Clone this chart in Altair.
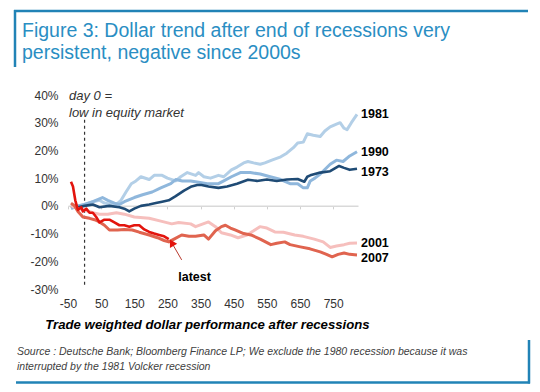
import altair as alt
import pandas as pd

# ---------------- data ----------------
s1981_days = [-41, -20, 0, 25, 45, 60, 80, 96, 110, 125, 141, 155, 170, 195, 210, 234, 250, 275, 290, 310, 335, 344, 360, 380, 404, 420, 443, 460, 480, 493, 510, 530, 544, 565, 592, 610, 630, 643, 660, 672, 690, 711, 725, 741, 760, 771, 783, 792, 805, 822]
s1981_vals = [0.5, 0, 0.5, 1.5, 2, 1, 0.5, 0.5, 2, 5, 8, 9, 10.5, 9.5, 11, 11, 10, 9, 10.5, 12, 11, 12, 10.5, 10, 11, 10.5, 13, 14, 15.5, 16, 15.5, 15, 15.5, 16.5, 17.7, 19, 21, 22.7, 23, 26, 25.5, 25, 27, 28.5, 29.5, 30, 28, 27.5, 30, 33]

s1990_days = [-41, -20, 0, 25, 54, 70, 90, 105, 120, 150, 175, 204, 230, 260, 275, 295, 320, 344, 370, 404, 420, 443, 470, 500, 530, 560, 592, 620, 643, 660, 672, 681, 695, 711, 741, 760, 780, 800, 822]
s1990_vals = [-1, 0, 0.5, 1.5, 3, 2, 1, 0.5, 1.5, 3, 4, 5, 6.5, 8, 9.5, 9, 9, 8.5, 8, 8, 9, 10.5, 12, 12, 11.5, 10.5, 9.5, 8, 8, 6.5, 6.5, 9, 10, 11.5, 15, 16.5, 16, 18, 19.5]

s1973_days = [-41, -20, 0, 25, 45, 75, 105, 120, 135, 150, 170, 195, 215, 234, 254, 275, 300, 323, 340, 353, 374, 404, 430, 460, 493, 520, 550, 580, 610, 643, 663, 672, 681, 711, 741, 768, 783, 800, 822]
s1973_vals = [0, -0.5, 0, 0.5, -0.5, 0, -0.5, -1, -2, -1, 0, 0.5, 1, 1.5, 2, 3.5, 5.5, 7, 7.5, 7.5, 7, 6.5, 7, 8, 9.4, 9, 9.5, 9, 9.5, 9.7, 8.7, 10.5, 11, 12, 12.5, 14.4, 13.7, 13, 13.4]

s2001_days = [-41, -20, 0, 25, 45, 70, 96, 120, 150, 195, 230, 263, 284, 320, 335, 374, 395, 413, 440, 463, 490, 510, 529, 550, 574, 600, 634, 660, 693, 720, 741, 760, 783, 800, 822]
s2001_vals = [0, -1, -1.5, -2.5, -3, -3, -2.5, -3, -4, -4.5, -5.5, -6.5, -6, -6.5, -7.5, -5.8, -7.5, -9.7, -10.5, -11.5, -10.5, -9, -7.5, -8, -9.4, -9.5, -10.5, -11, -12, -13, -15, -14.5, -14, -13.5, -13.4]

s2007_days = [-41, -30, -20, -5, 15, 30, 45, 60, 75, 100, 120, 144, 165, 195, 220, 240, 254, 270, 293, 315, 335, 360, 374, 395, 413, 425, 440, 454, 480, 502, 530, 562, 580, 604, 620, 651, 680, 711, 730, 747, 765, 783, 800, 822]
s2007_vals = [1, 0, -2, -4, -4.5, -5, -5.8, -7, -8.7, -8.7, -8.5, -8.7, -9.5, -10.5, -11.5, -12.5, -13, -12, -10.5, -11, -11, -10.5, -12, -9, -7.5, -7, -8, -8.7, -10, -10.5, -12, -14, -13.5, -13, -14, -14.8, -15.5, -16.6, -17.5, -18.4, -17.5, -17, -17.5, -17.7]

latest_days = [-41, -35, -28, -20, -10, -5, 5, 15, 25, 35, 45, 60, 75, 90, 105, 120, 135, 150, 165, 180, 195, 210, 225, 240, 254]
latest_vals = [8.7, 7, 2, -1.5, -0.5, -2, -1, -2.5, -2.5, -4, -6, -5, -5, -6, -7, -7, -7.5, -7, -7, -8.5, -9.4, -10, -10.5, -11, -12]

series_names = ["1981", "1990", "1973", "2001", "2007", "latest"]
series_colors = ["#b3cfe7", "#8fb7dc", "#1f4b75", "#f6bfbd", "#e0644f", "#e3140d"]

x_ticks = [-50, 50, 150, 250, 350, 450, 550, 650, 750]
y_ticks = [-30, -20, -10, 0, 10, 20, 30, 40]

day0_rule = {"day": [0], "lo": [-28.5], "hi": [31.5]}
arrow_days = [293, 263]
arrow_vals = [-19.5, -13.3]
latest_label = {"day": [332], "value": [-25.6], "label": ["latest"]}
note_day = [-47]
note_vals = [39.7, 33.6]

title_lines = ["Figure 3: Dollar trend after end of recessions very",
               "persistent, negative since 2000s"]
x_title = "Trade weighted dollar performance after recessions"
source_lines = ["Source : Deutsche Bank; Bloomberg Finance LP; We exclude the 1980 recession because it was",
                "interrupted by the 1981 Volcker recession"]

# ---------------- tables ----------------
all_days = [s1981_days, s1990_days, s1973_days, s2001_days, s2007_days, latest_days]
all_vals = [s1981_vals, s1990_vals, s1973_vals, s2001_vals, s2007_vals, latest_vals]
rows = []
for name, ds, vs in zip(series_names, all_days, all_vals):
    for d, v in zip(ds, vs):
        rows.append({"series": name, "day": d, "value": v})
df = pd.DataFrame(rows)

ends = pd.DataFrame([{"series": n, "day": ds[-1], "value": vs[-1]}
                     for n, ds, vs in zip(series_names[:5], all_days[:5], all_vals[:5])])

FONT = "Liberation Sans"

x_enc = alt.X("day:Q",
              scale=alt.Scale(domain=[-50, 825], nice=False, zero=False),
              axis=alt.Axis(values=x_ticks, labelExpr="'' + datum.value", offset=-83.14,
                            domainColor="#d9d9d9", domainWidth=1.5, tickColor="#d0d0d0",
                            tickSize=3, tickWidth=1, labelPadding=90, labelFontSize=12,
                            labelColor="#333333", labelFont=FONT, labelFlush=False,
                            labelOverlap=False, grid=False, title=x_title, titleFont=FONT,
                            titleFontSize=13.2, titleFontWeight="bold", titleFontStyle="italic",
                            titleColor="#000000", titleX=139, titlePadding=9))
y_axis = alt.Axis(values=y_ticks, labelExpr="datum.value + '%'", domain=False, ticks=False,
                  grid=False, labelPadding=10, labelFontSize=12, labelColor="#333333",
                  labelFont=FONT, title=None)
y_scale = alt.Scale(domain=[-30, 40], nice=False, zero=False)
y_enc = alt.Y("value:Q", scale=y_scale, axis=y_axis)
color_enc = alt.Color("series:N", scale=alt.Scale(domain=series_names, range=series_colors), legend=None)

layers = []

# dashed day 0 line
layers.append(alt.Chart(pd.DataFrame(day0_rule)).mark_rule(
    color="#333333", strokeDash=[3, 3], strokeWidth=1.2).encode(
    x=x_enc, y=alt.Y("lo:Q", scale=y_scale, axis=y_axis), y2="hi:Q"))

widths = {"1981": 3, "1990": 3, "1973": 2.6, "2001": 3, "2007": 3, "latest": 2.6}
for name in series_names:
    layers.append(alt.Chart(df).transform_filter(alt.datum.series == name).mark_line(
        strokeWidth=widths[name], strokeJoin="round").encode(
        x=x_enc, y=y_enc, color=color_enc))

# series labels
up = ends[ends.series.isin(["1981", "1990", "2001"])]
down = ends[ends.series.isin(["1973", "2007"])]
layers.append(alt.Chart(up).mark_text(align="left", baseline="middle", dx=4, fontSize=12.5,
                                      fontWeight="bold", font=FONT, color="#000000").encode(
    x=x_enc, y=y_enc, text="series:N"))
layers.append(alt.Chart(down).mark_text(align="left", baseline="middle", dx=4, dy=3, fontSize=12.5,
                                        fontWeight="bold", font=FONT, color="#000000").encode(
    x=x_enc, y=y_enc, text="series:N"))

# latest arrow + label
arrow_df = pd.DataFrame({"day": arrow_days, "value": arrow_vals})
layers.append(alt.Chart(arrow_df).mark_line(color="#b83a2e", strokeWidth=1).encode(x=x_enc, y=y_enc))
layers.append(alt.Chart(arrow_df.tail(1)).mark_point(shape="triangle-up", filled=True, size=70,
                                                      angle=330, color="#e3140d", opacity=1).encode(
    x=x_enc, y=y_enc))
layers.append(alt.Chart(pd.DataFrame(latest_label)).mark_text(
    fontSize=12.5, fontWeight="bold", font=FONT, color="#000000").encode(
    x=x_enc, y=y_enc, text="label:N"))

# day 0 note
note_df = pd.DataFrame({"day": note_day * 2, "value": note_vals, "t": ["day 0 =", "low in equity market"]})
layers.append(alt.Chart(note_df).mark_text(align="left", baseline="middle", fontSize=13,
                                           fontStyle="italic", font=FONT, color="#333333").encode(
    x=x_enc, y=y_enc, text="t:N"))

# title, source, frame
one = pd.DataFrame({"k": [0]})
BLUE = "#2a8ec3"
FRAME = "#2183b6"
layers.append(alt.Chart(one).mark_text(text=title_lines[0], x=-46, y=-58, align="left",
                                       baseline="alphabetic", fontSize=19.5, font=FONT, color=BLUE))
layers.append(alt.Chart(one).mark_text(text=title_lines[1], x=-46, y=-36, align="left",
                                       baseline="alphabetic", fontSize=19.5, font=FONT, color=BLUE))
layers.append(alt.Chart(one).mark_text(text=source_lines[0], x=-51, y=257, align="left",
                                       baseline="middle", fontSize=10.5, fontStyle="italic",
                                       font=FONT, color="#404040"))
layers.append(alt.Chart(one).mark_text(text=source_lines[1], x=-51, y=272, align="left",
                                       baseline="middle", fontSize=10.5, fontStyle="italic",
                                       font=FONT, color="#404040"))
layers.append(alt.Chart(one).mark_rule(color=FRAME, strokeWidth=2.5).encode(
    x=alt.value(-54), x2=alt.value(460), y=alt.value(-84)))
layers.append(alt.Chart(one).mark_rule(color=FRAME, strokeWidth=2.5).encode(
    x=alt.value(-53), y=alt.value(-85), y2=alt.value(-28)))
layers.append(alt.Chart(one).mark_rule(color=FRAME, strokeWidth=2.5).encode(
    x=alt.value(-52), x2=alt.value(462), y=alt.value(287.5)))
layers.append(alt.Chart(one).mark_rule(color=FRAME, strokeWidth=2.5).encode(
    x=alt.value(461), y=alt.value(245), y2=alt.value(288.5)))

chart = alt.layer(*layers).properties(
    width=290, height=194,
    padding={"left": 60, "top": 87, "right": 174, "bottom": 95},
    autosize=alt.AutoSizeParams(type="none"),
    background="#ffffff",
).configure_view(stroke=None)

chart.save("out.html", embed_options={"renderer": "svg", "actions": False})
